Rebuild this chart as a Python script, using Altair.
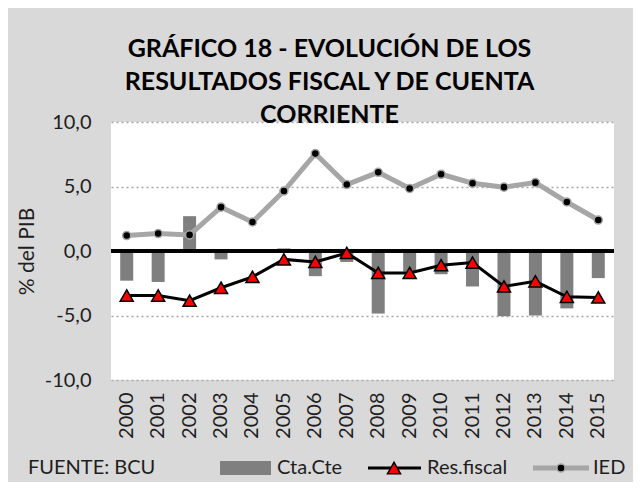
import altair as alt
import pandas as pd

years = [str(y) for y in range(2000, 2016)]
cta_cte = [-2.3, -2.4, 2.7, -0.65, 0.0, 0.2, -1.95, -0.85, -4.85, -1.6, -1.8, -2.75, -5.05, -5.0, -4.45, -2.1]
res_fiscal = [-3.45, -3.45, -3.85, -2.85, -2.0, -0.65, -0.85, -0.15, -1.7, -1.7, -1.1, -0.9, -2.75, -2.35, -3.55, -3.6]
ied = [1.2, 1.35, 1.25, 3.4, 2.25, 4.65, 7.55, 5.15, 6.1, 4.85, 5.95, 5.25, 4.95, 5.3, 3.8, 2.4]
y_ticks = [-10, -5, 0, 5, 10]
title_lines = ["GRÁFICO 18 - EVOLUCIÓN DE LOS", "RESULTADOS FISCAL Y DE CUENTA", "CORRIENTE"]
legend_labels = ["Cta.Cte", "Res.fiscal", "IED"]
source_text = "FUENTE: BCU"

df = pd.DataFrame({"year": years, "cta": cta_cte, "res": res_fiscal, "ied": ied})

FONT = "Lato"
TXT = "#1e1e1e"

x_enc = alt.X(
    "year:O",
    scale=alt.Scale(paddingInner=0, paddingOuter=0),
    axis=alt.Axis(
        title=None, labelAngle=-90, labelPadding=12, labelFontSize=20, labelFont=FONT,
        labelColor=TXT, ticks=False, domain=False, grid=False,
    ),
)
y_scale = alt.Scale(domain=[-10, 10], nice=False, zero=False)
y_axis = alt.Axis(
    title="% del PIB", values=y_ticks,
    labelExpr="(datum.value < 0 ? '-' : '') + replace(format(abs(datum.value), '.1f'), '.', ',')",
    labelFontSize=20, labelFont=FONT, labelColor=TXT, labelPadding=20,
    ticks=False, domain=False, grid=True, gridColor="#a6a6a6", gridDash=[2, 3], gridWidth=1.5,
    titleFont=FONT, titleFontSize=21, titleFontWeight="normal", titleColor=TXT,
    titleAngle=-90, titleX=-84, titleY=129, titleAlign="center", titleBaseline="middle",
)

base = alt.Chart(df)

bars = base.mark_bar(size=13, color="#7f7f7f").encode(
    x=x_enc, y=alt.Y("cta:Q", scale=y_scale, axis=y_axis)
)
zero = base.mark_rule(color="#000000", strokeWidth=2.5).encode(y=alt.datum(0))
ied_line = base.mark_line(color="#a6a6a6", strokeWidth=5).encode(x=x_enc, y="ied:Q")
ied_pts = base.mark_point(filled=True, fill="#000000", stroke="#a6a6a6", strokeWidth=1.5, size=65, opacity=1).encode(
    x=x_enc, y="ied:Q")
res_line = base.mark_line(color="#000000", strokeWidth=3).encode(x=x_enc, y="res:Q")
res_pts = base.mark_point(shape="triangle-up", filled=True, fill="#ff0000", stroke="#000000",
                          strokeWidth=1.5, size=170, opacity=1).encode(x=x_enc, y="res:Q")

# manual legend / source (pixel positions relative to plot area)
LY = 346
one = pd.DataFrame({"t": [source_text]})
src = alt.Chart(one).mark_text(align="left", baseline="middle", font=FONT, fontSize=20, color=TXT).encode(
    x=alt.value(-83), y=alt.value(LY), text="t:N")
leg_rect = alt.Chart(one).mark_rect(color="#7f7f7f").encode(
    x=alt.value(109), x2=alt.value(160), y=alt.value(LY - 7), y2=alt.value(LY + 7))
leg_t1 = alt.Chart(pd.DataFrame({"t": [legend_labels[0]]})).mark_text(
    align="left", baseline="middle", font=FONT, fontSize=20, color=TXT).encode(
    x=alt.value(166), y=alt.value(LY), text="t:N")
leg_res_line = alt.Chart(one).mark_rule(color="#000000", strokeWidth=3).encode(
    x=alt.value(257), x2=alt.value(310), y=alt.value(LY))
leg_res_pt = alt.Chart(one).mark_point(shape="triangle-up", filled=True, fill="#ff0000", stroke="#000000",
                                      strokeWidth=1.5, size=170, opacity=1).encode(
    x=alt.value(283), y=alt.value(LY))
leg_t2 = alt.Chart(pd.DataFrame({"t": [legend_labels[1]]})).mark_text(
    align="left", baseline="middle", font=FONT, fontSize=20, color=TXT).encode(
    x=alt.value(316), y=alt.value(LY), text="t:N")
leg_ied_line = alt.Chart(one).mark_rule(color="#a6a6a6", strokeWidth=5).encode(
    x=alt.value(422), x2=alt.value(478), y=alt.value(LY))
leg_ied_pt = alt.Chart(one).mark_point(filled=True, fill="#000000", stroke="#a6a6a6", strokeWidth=1.5,
                                      size=65, opacity=1).encode(x=alt.value(450), y=alt.value(LY))
leg_t3 = alt.Chart(pd.DataFrame({"t": [legend_labels[2]]})).mark_text(
    align="left", baseline="middle", font=FONT, fontSize=20, color=TXT).encode(
    x=alt.value(482), y=alt.value(LY), text="t:N")

chart = alt.layer(
    bars, zero, ied_line, ied_pts, res_line, res_pts,
    src, leg_rect, leg_t1, leg_res_line, leg_res_pt, leg_t2, leg_ied_line, leg_ied_pt, leg_t3,
).properties(
    width=503, height=258,
    autosize=alt.AutoSizeParams(type="none"),
    padding={"left": 103, "top": 114, "right": 19, "bottom": 102},
    background="#d9d9d9",
    title=alt.TitleParams(
        text=title_lines, font=FONT, fontSize=25, fontWeight="bold", color="#000000",
        anchor="middle", frame="group", dx=-33, dy=18, lineHeight=33, offset=2,
    ),
).configure_view(stroke=None, fill="#ffffff")

chart.save("out.html", embed_options={"renderer": "svg", "actions": False})
